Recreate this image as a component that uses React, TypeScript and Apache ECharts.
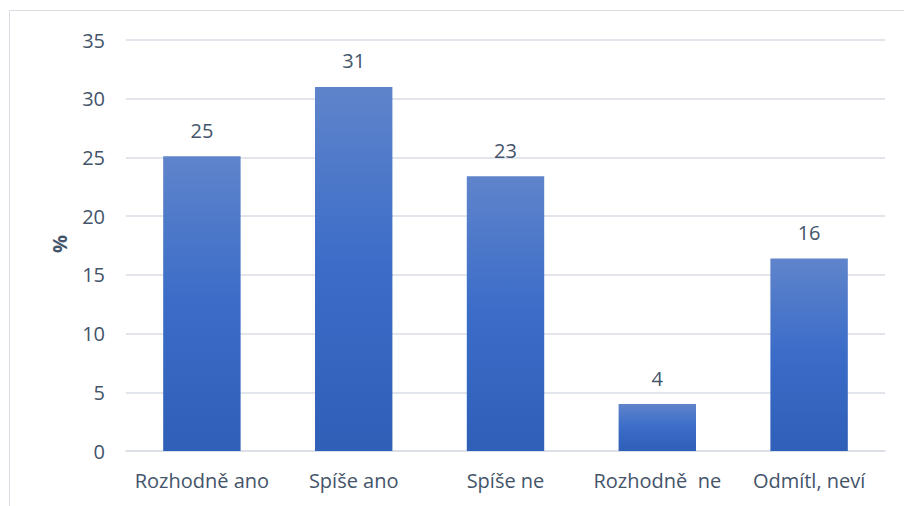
import React, { useEffect, useRef } from "react";
import * as echarts from "echarts";

const categories = ["Rozhodně ano", "Spíše ano", "Spíše ne", "Rozhodně  ne", "Odmítl, neví"];
const values = [25.1, 31.0, 23.4, 4.0, 16.4];
const yTicks = { min: 0, max: 35, interval: 5 };
const yAxisName = "%";

export default function App() {
  const ref = useRef<HTMLDivElement>(null);
  useEffect(() => {
    document.body.style.margin = "0";
    const chart = echarts.init(ref.current!, null, { renderer: "svg" });
    const textColor = "#44546a";
    const font = "'Open Sans', 'Noto Sans', sans-serif";
    chart.setOption({
      animation: false,
      backgroundColor: "#ffffff",
      grid: { left: 126, right: 19, top: 40, bottom: 55, containLabel: false },
      graphic: [
        {
          type: "rect",
          shape: { x: 9.5, y: 10.5, width: 1000, height: 600 },
          style: { fill: "none", stroke: "#d9dde3", lineWidth: 1 },
          silent: true,
          z: -1,
        },
        {
          type: "text",
          x: 59,
          y: 244,
          rotation: Math.PI / 2,
          style: {
            text: yAxisName,
            fill: textColor,
            font: `bold 20px ${font}`,
            align: "center",
            verticalAlign: "middle",
          },
        },
      ],
      xAxis: {
        type: "category",
        data: categories,
        axisLine: { show: true, lineStyle: { color: "#d9dde6", width: 1.5 } },
        axisTick: { show: false },
        axisLabel: { color: textColor, fontSize: 20, fontFamily: font, margin: 19, interval: 0 },
      },
      yAxis: {
        type: "value",
        min: yTicks.min,
        max: yTicks.max,
        interval: yTicks.interval,
        axisLine: { show: false },
        axisTick: { show: false },
        splitLine: { lineStyle: { color: "#d9dde6", width: 1.5 } },
        axisLabel: { color: textColor, fontSize: 20, fontFamily: font, margin: 21 },
      },
      series: [
        {
          type: "bar",
          data: values,
          barWidth: "51%",
          itemStyle: {
            color: new echarts.graphic.LinearGradient(0, 0, 0, 1, [
              { offset: 0, color: "#5f84cb" },
              { offset: 0.5, color: "#3a6cc8" },
              { offset: 1, color: "#2f5fb7" },
            ]),
          },
          label: {
            show: true,
            position: "top",
            distance: 16,
            color: textColor,
            fontSize: 20,
            fontFamily: font,
            formatter: (p: any) => String(Math.round(p.value)),
          },
        },
      ],
    });
    return () => chart.dispose();
  }, []);
  return <div ref={ref} style={{ width: 904, height: 506 }} />;
}
